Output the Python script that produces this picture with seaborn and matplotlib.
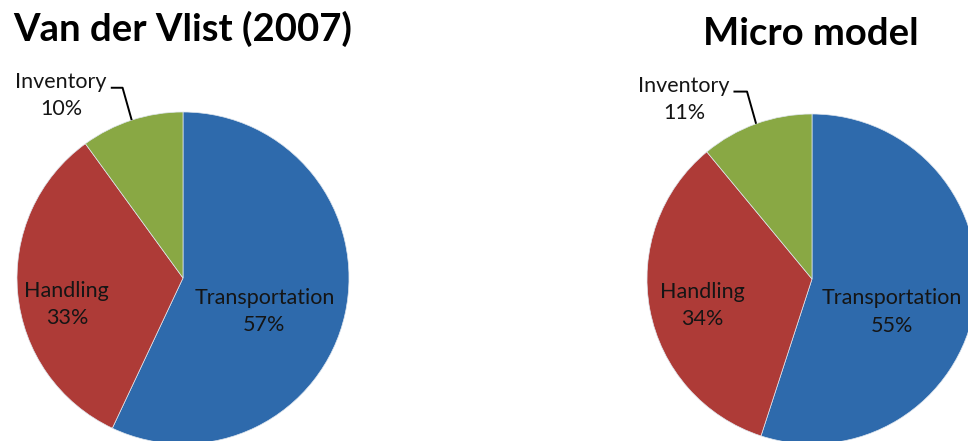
import numpy as np
import matplotlib
matplotlib.use("Agg")
import matplotlib.pyplot as plt
import seaborn as sns

# Cost shares of the three logistics components
categories = ["Transportation", "Handling", "Inventory"]
vlist_shares = [57, 33, 10]
micro_shares = [55, 34, 11]
titles = ["Van der Vlist (2007)", "Micro model"]

colors = ["#2E6AAC", "#AE3B37", "#89A844"]

sns.set_theme(style="white")
plt.rcParams["font.family"] = ["Lato", "DejaVu Sans"]

W, H = 968, 441
fig = plt.figure(figsize=(W / 100, H / 100), dpi=100)
fig.patch.set_facecolor("white")


def px_axes(cx, cy, r):
    """Square axes whose unit circle is centred at pixel (cx, cy) with radius r."""
    left = (cx - r) / W
    bottom = (H - (cy + r)) / H
    return fig.add_axes([left, bottom, 2 * r / W, 2 * r / H])


def draw_pie(ax, shares, label_pos):
    wedges, _ = ax.pie(shares, colors=colors, startangle=90, counterclock=False,
                       radius=1.0, wedgeprops=dict(linewidth=0.5, edgecolor="#dfe6ee"))
    ax.set_xlim(-1, 1)
    ax.set_ylim(-1, 1)
    ax.set_aspect("auto")
    ax.axis("off")
    for name, share, (x, y) in zip(categories, shares, label_pos):
        ax.text(x, y, f"{name}\n{share}%", ha="center", va="center",
                fontsize=15.5, color="#151515", linespacing=1.45, clip_on=False)
    # leader line for the small inventory slice
    w = wedges[2]
    mid = np.deg2rad((w.theta1 + w.theta2) / 2)
    ex, ey = np.cos(mid), np.sin(mid)
    lx, ly = label_pos[2]
    ax.plot([lx + 0.30, ex - 0.055, ex], [ey + 0.195, ey + 0.195, ey],
            color="black", lw=1.4, clip_on=False, solid_capstyle="butt")


ax1 = px_axes(183, 278, 166)
draw_pie(ax1, vlist_shares, [(0.49, -0.20), (-0.70, -0.16), (-0.735, 1.10)])

ax2 = px_axes(812, 279, 165)
draw_pie(ax2, micro_shares, [(0.485, -0.20), (-0.667, -0.16), (-0.776, 1.09)])

fig.text(183 / W, 1 - 41 / H, titles[0], ha="center", va="baseline",
         fontsize=27.5, fontweight="bold", color="black")
fig.text(811 / W, 1 - 45 / H, titles[1], ha="center", va="baseline",
         fontsize=27.5, fontweight="bold", color="black")

fig.savefig("out.png", dpi=100, facecolor="white")
